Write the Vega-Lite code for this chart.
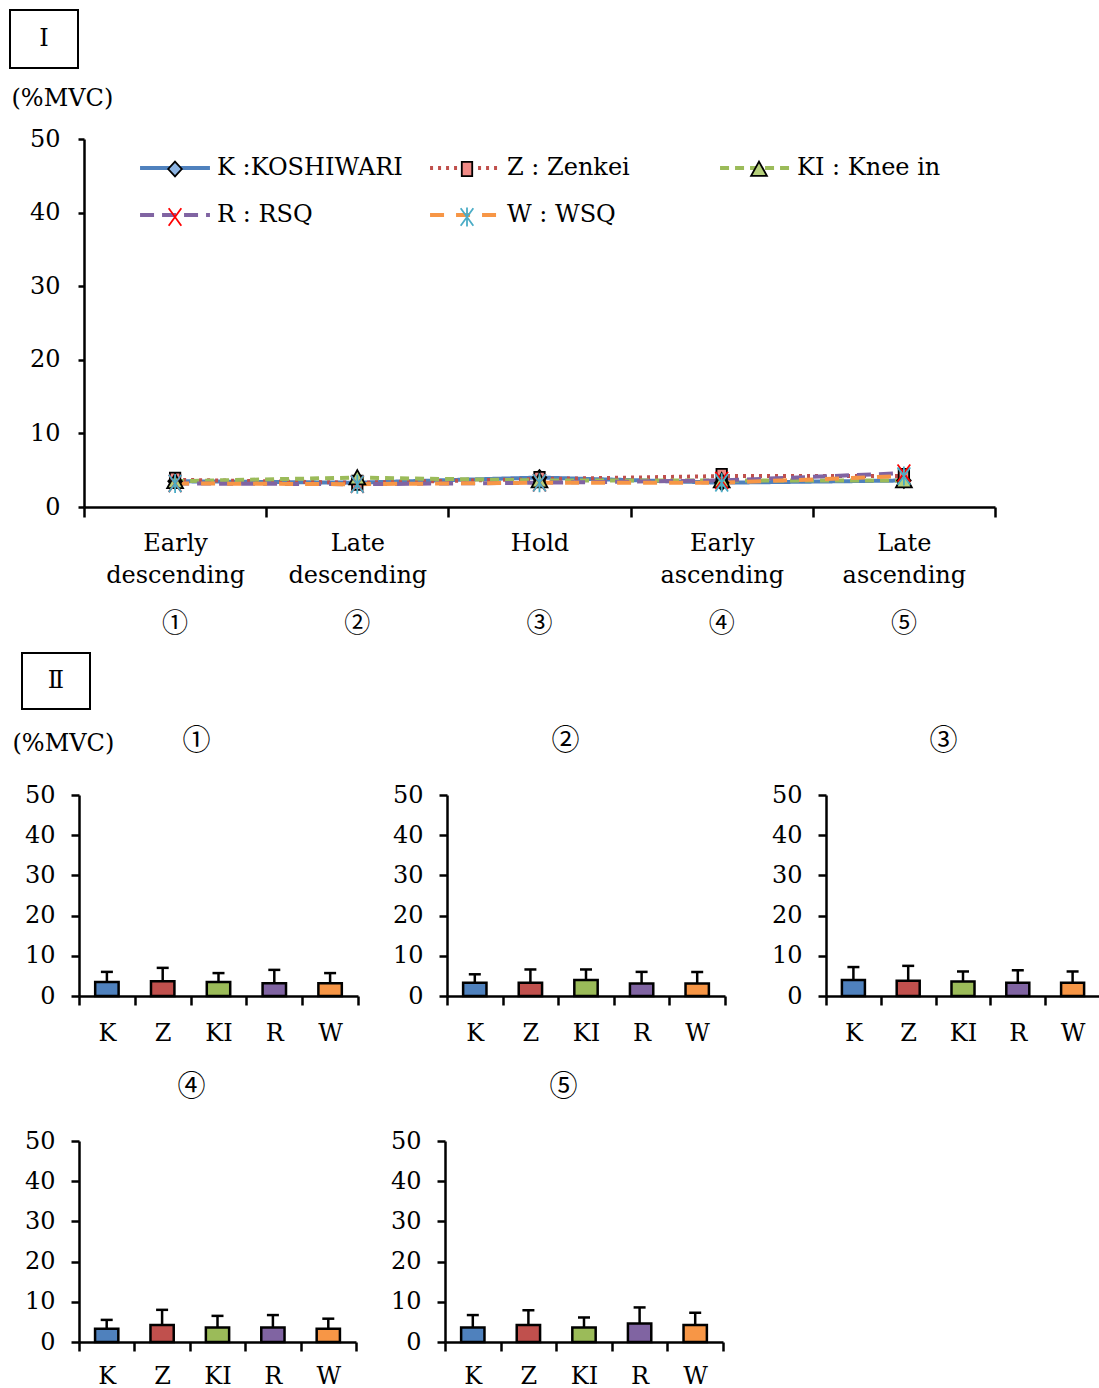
{
  "$schema": "https://vega.github.io/schema/vega-lite/v6.json",
  "padding": {"left": 9, "top": 9, "right": 0, "bottom": 0},
  "background": "white",
  "config": {
    "font": "DejaVu Serif",
    "view": {"stroke": null},
    "axis": {
      "labelFont": "DejaVu Serif", "labelFontSize": 24, "labelColor": "black",
      "domainColor": "black", "domainWidth": 2.5, "tickColor": "black", "tickWidth": 2.5,
      "grid": false, "titleFont": "DejaVu Serif", "titleFontSize": 24,
      "titleFontWeight": "normal", "titleColor": "black"
    },
    "legend": {"labelFont": "DejaVu Serif", "labelFontSize": 24, "labelColor": "black"}
  },
  "datasets": {
    "emg": [
      {"phase": "Early descending", "series": "K :KOSHIWARI", "mean": 3.5, "upper": 6.0},
      {"phase": "Early descending", "series": "Z : Zenkei", "mean": 3.7, "upper": 7.0},
      {"phase": "Early descending", "series": "KI : Knee in", "mean": 3.5, "upper": 5.7},
      {"phase": "Early descending", "series": "R : RSQ", "mean": 3.2, "upper": 6.5},
      {"phase": "Early descending", "series": "W : WSQ", "mean": 3.2, "upper": 5.7},
      {"phase": "Late descending", "series": "K :KOSHIWARI", "mean": 3.3, "upper": 5.4},
      {"phase": "Late descending", "series": "Z : Zenkei", "mean": 3.3, "upper": 6.6},
      {"phase": "Late descending", "series": "KI : Knee in", "mean": 4.0, "upper": 6.6},
      {"phase": "Late descending", "series": "R : RSQ", "mean": 3.1, "upper": 6.0},
      {"phase": "Late descending", "series": "W : WSQ", "mean": 3.1, "upper": 6.0},
      {"phase": "Hold", "series": "K :KOSHIWARI", "mean": 4.0, "upper": 7.2},
      {"phase": "Hold", "series": "Z : Zenkei", "mean": 3.8, "upper": 7.5},
      {"phase": "Hold", "series": "KI : Knee in", "mean": 3.6, "upper": 6.1},
      {"phase": "Hold", "series": "R : RSQ", "mean": 3.3, "upper": 6.4},
      {"phase": "Hold", "series": "W : WSQ", "mean": 3.3, "upper": 6.1},
      {"phase": "Early ascending", "series": "K :KOSHIWARI", "mean": 3.3, "upper": 5.5},
      {"phase": "Early ascending", "series": "Z : Zenkei", "mean": 4.2, "upper": 8.0},
      {"phase": "Early ascending", "series": "KI : Knee in", "mean": 3.6, "upper": 6.5},
      {"phase": "Early ascending", "series": "R : RSQ", "mean": 3.6, "upper": 6.7},
      {"phase": "Early ascending", "series": "W : WSQ", "mean": 3.3, "upper": 5.8},
      {"phase": "Late ascending", "series": "K :KOSHIWARI", "mean": 3.6, "upper": 6.7},
      {"phase": "Late ascending", "series": "Z : Zenkei", "mean": 4.2, "upper": 7.9},
      {"phase": "Late ascending", "series": "KI : Knee in", "mean": 3.6, "upper": 6.1},
      {"phase": "Late ascending", "series": "R : RSQ", "mean": 4.6, "upper": 8.6},
      {"phase": "Late ascending", "series": "W : WSQ", "mean": 4.2, "upper": 7.3}
    ]
  },
  "resolve": {"scale": {"fill": "independent", "color": "independent", "shape": "independent", "stroke": "independent", "strokeDash": "independent"}},
  "spacing": 11,
  "vconcat": [
    {
      "spacing": 17,
      "resolve": {"scale": {"fill": "independent", "color": "independent", "shape": "independent", "stroke": "independent", "strokeDash": "independent"}},
      "vconcat": [
        {
          "width": 68, "height": 58,
          "view": {"stroke": "black", "strokeWidth": 2},
          "data": {"values": [{"tag": "Ⅰ"}]},
          "mark": {"type": "text", "font": "DejaVu Serif", "fontSize": 24, "color": "black"},
          "encoding": {"text": {"field": "tag"}}
        },
        {
          "spacing": 0,
          "resolve": {"scale": {"fill": "independent", "color": "independent", "shape": "independent", "stroke": "independent", "strokeDash": "independent"}},
          "hconcat": [
            {
              "width": 1, "height": 1,
              "data": {"values": [{"tag": ""}]},
              "mark": {"type": "text"},
              "encoding": {"text": {"field": "tag"}}
            },
            {
              "width": 911, "height": 368,
              "data": {"name": "emg"},
              "layer": [
                {
                  "mark": {"type": "line", "strokeWidth": 4},
                  "encoding": {
                    "x": {"field": "phase", "type": "nominal",
                      "sort": ["Early descending", "Late descending", "Hold", "Early ascending", "Late ascending"],
                      "scale": {"type": "band", "paddingInner": 0, "paddingOuter": 0},
                      "axis": {"title": null, "labelAngle": 0, "labelExpr": "split(datum.label, ' ')", "labelLineHeight": 32,
                        "tickBand": "extent", "tickSize": 10, "labelPadding": 14}},
                    "y": {"field": "mean", "type": "quantitative", "scale": {"domain": [0, 50]},
                      "axis": {"values": [0, 10, 20, 30, 40, 50], "tickSize": 6, "labelPadding": 18,
                        "title": "(%MVC)", "titleAngle": 0, "titleAlign": "left", "titleBaseline": "middle",
                        "titleX": -73, "titleY": -41}},
                    "stroke": {"field": "series", "type": "nominal",
                      "scale": {"domain": ["K :KOSHIWARI", "Z : Zenkei", "KI : Knee in", "R : RSQ", "W : WSQ"],
                        "range": ["#4F81BD", "#C0504D", "#9BBB59", "#8064A2", "#F79646"]},
                      "legend": {"orient": "none", "legendX": 74, "legendY": 12, "direction": "horizontal", "columns": 3, "gridAlign": "all",
                        "columnPadding": 19, "rowPadding": 18, "symbolType": "M-2.33,0H2.33", "symbolSize": 900,
                        "symbolStrokeWidth": 4, "labelOffset": 25, "labelLimit": 400, "title": null, "padding": 0}},
                    "strokeDash": {"field": "series", "type": "nominal",
                      "scale": {"domain": ["K :KOSHIWARI", "Z : Zenkei", "KI : Knee in", "R : RSQ", "W : WSQ"],
                        "range": [[1, 0], [3, 5], [9, 6], [14, 8], [14, 12]]},
                      "legend": {"orient": "none", "legendX": 74, "legendY": 12, "direction": "horizontal", "columns": 3, "gridAlign": "all",
                        "columnPadding": 19, "rowPadding": 18, "symbolType": "M-2.33,0H2.33", "symbolSize": 900,
                        "symbolStrokeWidth": 4, "labelOffset": 25, "labelLimit": 400, "title": null, "padding": 0}}
                  }
                },
                {
                  "mark": {"type": "point", "filled": false, "size": 1000, "strokeWidth": 1.8, "opacity": 1},
                  "encoding": {
                    "x": {"field": "phase", "type": "nominal",
                      "sort": ["Early descending", "Late descending", "Hold", "Early ascending", "Late ascending"],
                      "axis": {"orient": "bottom", "title": null, "labelAngle": 0, "domain": false, "ticks": false, "tickSize": 0,
                        "labelPadding": 103, "labelFont": "Noto Sans CJK JP", "labelFontSize": 26,
                        "labelExpr": "['①','②','③','④','⑤'][indexof(['Early descending','Late descending','Hold','Early ascending','Late ascending'], datum.label)]"}},
                    "y": {"field": "mean", "type": "quantitative", "scale": {"domain": [0, 50]},
                      "axis": {"values": [0, 10, 20, 30, 40, 50], "tickSize": 6, "labelPadding": 18,
                        "title": "(%MVC)", "titleAngle": 0, "titleAlign": "left", "titleBaseline": "middle",
                        "titleX": -73, "titleY": -41}},
                    "shape": {"field": "series", "type": "nominal",
                      "scale": {"domain": ["K :KOSHIWARI", "Z : Zenkei", "KI : Knee in", "R : RSQ", "W : WSQ", "-"],
                        "range": [
                        "M0,-0.47L0.43,0L0,0.47L-0.43,0Z",
                        "M-0.33,-0.45H0.33V0.45H-0.33Z",
                        "M0,-0.47L0.5,0.43H-0.5Z",
                        "M-0.4,-0.55L0.4,0.55M0.4,-0.55L-0.4,0.55",
                        "M-0.4,-0.55L0.4,0.55M0.4,-0.55L-0.4,0.55M0,-0.6V0.6",
                        "M0,0"]},
                      "legend": {"orient": "none", "legendX": 74, "legendY": 12, "direction": "horizontal", "columns": 3, "gridAlign": "all",
                        "columnPadding": 258, "rowPadding": 18, "symbolSize": 1000, "symbolStrokeWidth": 1.8,
                        "labelOffset": 0, "labelExpr": "''", "title": null, "padding": 0}},
                    "fill": {"field": "series", "type": "nominal",
                      "scale": {"domain": ["K :KOSHIWARI", "Z : Zenkei", "KI : Knee in", "R : RSQ", "W : WSQ", "-"],
                        "range": ["#8DB4E2", "#F08A86", "#B5CF7A", "transparent", "transparent", "transparent"]},
                      "legend": {"orient": "none", "legendX": 74, "legendY": 12, "direction": "horizontal", "columns": 3, "gridAlign": "all",
                        "columnPadding": 258, "rowPadding": 18, "symbolSize": 1000, "symbolStrokeWidth": 1.8,
                        "labelOffset": 0, "labelExpr": "''", "title": null, "padding": 0}},
                    "color": {"field": "series", "type": "nominal",
                      "scale": {"domain": ["K :KOSHIWARI", "Z : Zenkei", "KI : Knee in", "R : RSQ", "W : WSQ", "-"],
                        "range": ["black", "black", "black", "#FF0000", "#4BACC6", "transparent"]},
                      "legend": {"orient": "none", "legendX": 74, "legendY": 12, "direction": "horizontal", "columns": 3, "gridAlign": "all",
                        "columnPadding": 258, "rowPadding": 18, "symbolSize": 1000, "symbolStrokeWidth": 1.8,
                        "labelOffset": 0, "labelExpr": "''", "title": null, "padding": 0}}
                  }
                }
              ],
              "resolve": {"axis": {"x": "independent"}}
            }
          ]
        }
      ]
    },
    {
      "spacing": 17,
      "vconcat": [
        {
          "spacing": 10,
          "hconcat": [
            {
              "width": 1, "height": 1,
              "data": {"values": [{"tag": ""}]},
              "mark": {"type": "text"},
              "encoding": {"text": {"field": "tag"}}
            },
            {
              "width": 68, "height": 56,
              "view": {"stroke": "black", "strokeWidth": 2},
              "data": {"values": [{"tag": "Ⅱ"}]},
              "mark": {"type": "text", "font": "DejaVu Serif", "fontSize": 24, "color": "black"},
              "encoding": {"text": {"field": "tag"}}
            }
          ]
        },
        {
          "spacing": 1,
          "hconcat": [
            {
              "width": 1, "height": 1,
              "data": {"values": [{"tag": ""}]},
              "mark": {"type": "text"},
              "encoding": {"text": {"field": "tag"}}
            },
            {
              "spacing": 28,
              "vconcat": [
                {
                  "spacing": 32,
                  "hconcat": [
                    {
                      "width": 279, "height": 201,
                      "data": {"name": "emg"},
                      "transform": [{"filter": {"field": "phase", "equal": "Early descending"}}],
                      "layer": [
                        {"mark": {"type": "bar", "width": {"band": 0.42}, "stroke": "black", "strokeWidth": 2.5},
                         "encoding": {
                           "x": {"field": "series", "type": "nominal", "sort": ["K :KOSHIWARI", "Z : Zenkei", "KI : Knee in", "R : RSQ", "W : WSQ"],
                             "scale": {"type": "band", "paddingInner": 0, "paddingOuter": 0},
                             "axis": {"title": null, "labelAngle": 0, "labelExpr": "split(datum.label, ' ')[0]", "tickBand": "extent", "tickSize": 9, "labelPadding": 16}},
                           "y": {"field": "mean", "type": "quantitative", "scale": {"domain": [0, 50]},
                             "axis": {"values": [0, 10, 20, 30, 40, 50], "tickSize": 8, "labelPadding": 16,
                               "title": "(%MVC)", "titleAngle": 0, "titleAlign": "left", "titleBaseline": "middle", "titleX": -67, "titleY": -52}},
                           "fill": {"field": "series", "type": "nominal",
                             "scale": {"domain": ["K :KOSHIWARI", "Z : Zenkei", "KI : Knee in", "R : RSQ", "W : WSQ"], "range": ["#4F81BD", "#C0504D", "#9BBB59", "#8064A2", "#F79646"]},
                             "legend": null}}},
                        {"mark": {"type": "rule", "strokeWidth": 2.5, "color": "black"},
                         "encoding": {
                           "x": {"field": "series", "type": "nominal", "sort": ["K :KOSHIWARI", "Z : Zenkei", "KI : Knee in", "R : RSQ", "W : WSQ"], "axis": null},
                           "y": {"field": "mean", "type": "quantitative",
                             "axis": {"values": [0, 10, 20, 30, 40, 50], "tickSize": 8, "labelPadding": 16,
                               "title": "(%MVC)", "titleAngle": 0, "titleAlign": "left", "titleBaseline": "middle", "titleX": -67, "titleY": -52}},
                           "y2": {"field": "upper"}}},
                        {"mark": {"type": "tick", "orient": "horizontal", "size": 12, "thickness": 2.5, "color": "black", "opacity": 1},
                         "encoding": {
                           "x": {"field": "series", "type": "nominal", "sort": ["K :KOSHIWARI", "Z : Zenkei", "KI : Knee in", "R : RSQ", "W : WSQ"],
                             "axis": {"orient": "top", "domain": false, "ticks": false, "labels": false, "title": "①",
                               "titleFont": "Noto Sans CJK JP", "titleFontSize": 28, "titleX": 117, "titleY": -54, "titleBaseline": "middle", "titleAlign": "center"}},
                           "y": {"field": "upper", "type": "quantitative",
                             "axis": {"values": [0, 10, 20, 30, 40, 50], "tickSize": 8, "labelPadding": 16,
                               "title": "(%MVC)", "titleAngle": 0, "titleAlign": "left", "titleBaseline": "middle", "titleX": -67, "titleY": -52}}}}
                      ],
                      "resolve": {"axis": {"x": "independent"}}
                    },
                    {
                      "width": 278, "height": 201,
                      "data": {"name": "emg"},
                      "transform": [{"filter": {"field": "phase", "equal": "Late descending"}}],
                      "layer": [
                        {"mark": {"type": "bar", "width": {"band": 0.42}, "stroke": "black", "strokeWidth": 2.5},
                         "encoding": {
                           "x": {"field": "series", "type": "nominal", "sort": ["K :KOSHIWARI", "Z : Zenkei", "KI : Knee in", "R : RSQ", "W : WSQ"],
                             "scale": {"type": "band", "paddingInner": 0, "paddingOuter": 0},
                             "axis": {"title": null, "labelAngle": 0, "labelExpr": "split(datum.label, ' ')[0]", "tickBand": "extent", "tickSize": 9, "labelPadding": 16}},
                           "y": {"field": "mean", "type": "quantitative", "scale": {"domain": [0, 50]},
                             "axis": {"values": [0, 10, 20, 30, 40, 50], "tickSize": 8, "labelPadding": 16, "title": null}},
                           "fill": {"field": "series", "type": "nominal",
                             "scale": {"domain": ["K :KOSHIWARI", "Z : Zenkei", "KI : Knee in", "R : RSQ", "W : WSQ"], "range": ["#4F81BD", "#C0504D", "#9BBB59", "#8064A2", "#F79646"]},
                             "legend": null}}},
                        {"mark": {"type": "rule", "strokeWidth": 2.5, "color": "black"},
                         "encoding": {
                           "x": {"field": "series", "type": "nominal", "sort": ["K :KOSHIWARI", "Z : Zenkei", "KI : Knee in", "R : RSQ", "W : WSQ"], "axis": null},
                           "y": {"field": "mean", "type": "quantitative",
                             "axis": {"values": [0, 10, 20, 30, 40, 50], "tickSize": 8, "labelPadding": 16, "title": null}},
                           "y2": {"field": "upper"}}},
                        {"mark": {"type": "tick", "orient": "horizontal", "size": 12, "thickness": 2.5, "color": "black", "opacity": 1},
                         "encoding": {
                           "x": {"field": "series", "type": "nominal", "sort": ["K :KOSHIWARI", "Z : Zenkei", "KI : Knee in", "R : RSQ", "W : WSQ"],
                             "axis": {"orient": "top", "domain": false, "ticks": false, "labels": false, "title": "②",
                               "titleFont": "Noto Sans CJK JP", "titleFontSize": 28, "titleX": 118, "titleY": -54, "titleBaseline": "middle", "titleAlign": "center"}},
                           "y": {"field": "upper", "type": "quantitative",
                             "axis": {"values": [0, 10, 20, 30, 40, 50], "tickSize": 8, "labelPadding": 16, "title": null}}}}
                      ],
                      "resolve": {"axis": {"x": "independent"}}
                    },
                    {
                      "width": 274, "height": 201,
                      "data": {"name": "emg"},
                      "transform": [{"filter": {"field": "phase", "equal": "Hold"}}],
                      "layer": [
                        {"mark": {"type": "bar", "width": {"band": 0.42}, "stroke": "black", "strokeWidth": 2.5},
                         "encoding": {
                           "x": {"field": "series", "type": "nominal", "sort": ["K :KOSHIWARI", "Z : Zenkei", "KI : Knee in", "R : RSQ", "W : WSQ"],
                             "scale": {"type": "band", "paddingInner": 0, "paddingOuter": 0},
                             "axis": {"title": null, "labelAngle": 0, "labelExpr": "split(datum.label, ' ')[0]", "tickBand": "extent", "tickSize": 9, "labelPadding": 16}},
                           "y": {"field": "mean", "type": "quantitative", "scale": {"domain": [0, 50]},
                             "axis": {"values": [0, 10, 20, 30, 40, 50], "tickSize": 8, "labelPadding": 16, "title": null, "minExtent": 67}},
                           "fill": {"field": "series", "type": "nominal",
                             "scale": {"domain": ["K :KOSHIWARI", "Z : Zenkei", "KI : Knee in", "R : RSQ", "W : WSQ"], "range": ["#4F81BD", "#C0504D", "#9BBB59", "#8064A2", "#F79646"]},
                             "legend": null}}},
                        {"mark": {"type": "rule", "strokeWidth": 2.5, "color": "black"},
                         "encoding": {
                           "x": {"field": "series", "type": "nominal", "sort": ["K :KOSHIWARI", "Z : Zenkei", "KI : Knee in", "R : RSQ", "W : WSQ"], "axis": null},
                           "y": {"field": "mean", "type": "quantitative",
                             "axis": {"values": [0, 10, 20, 30, 40, 50], "tickSize": 8, "labelPadding": 16, "title": null, "minExtent": 67}},
                           "y2": {"field": "upper"}}},
                        {"mark": {"type": "tick", "orient": "horizontal", "size": 12, "thickness": 2.5, "color": "black", "opacity": 1},
                         "encoding": {
                           "x": {"field": "series", "type": "nominal", "sort": ["K :KOSHIWARI", "Z : Zenkei", "KI : Knee in", "R : RSQ", "W : WSQ"],
                             "axis": {"orient": "top", "domain": false, "ticks": false, "labels": false, "title": "③",
                               "titleFont": "Noto Sans CJK JP", "titleFontSize": 28, "titleX": 117, "titleY": -54, "titleBaseline": "middle", "titleAlign": "center"}},
                           "y": {"field": "upper", "type": "quantitative",
                             "axis": {"values": [0, 10, 20, 30, 40, 50], "tickSize": 8, "labelPadding": 16, "title": null, "minExtent": 67}}}}
                      ],
                      "resolve": {"axis": {"x": "independent"}}
                    }
                  ]
                },
                {
                  "spacing": 32,
                  "hconcat": [
                    {
                      "width": 277, "height": 201,
                      "data": {"name": "emg"},
                      "transform": [{"filter": {"field": "phase", "equal": "Early ascending"}}],
                      "layer": [
                        {"mark": {"type": "bar", "width": {"band": 0.42}, "stroke": "black", "strokeWidth": 2.5},
                         "encoding": {
                           "x": {"field": "series", "type": "nominal", "sort": ["K :KOSHIWARI", "Z : Zenkei", "KI : Knee in", "R : RSQ", "W : WSQ"],
                             "scale": {"type": "band", "paddingInner": 0, "paddingOuter": 0},
                             "axis": {"title": null, "labelAngle": 0, "labelExpr": "split(datum.label, ' ')[0]", "tickBand": "extent", "tickSize": 9, "labelPadding": 13}},
                           "y": {"field": "mean", "type": "quantitative", "scale": {"domain": [0, 50]},
                             "axis": {"values": [0, 10, 20, 30, 40, 50], "tickSize": 8, "labelPadding": 16, "title": null}},
                           "fill": {"field": "series", "type": "nominal",
                             "scale": {"domain": ["K :KOSHIWARI", "Z : Zenkei", "KI : Knee in", "R : RSQ", "W : WSQ"], "range": ["#4F81BD", "#C0504D", "#9BBB59", "#8064A2", "#F79646"]},
                             "legend": null}}},
                        {"mark": {"type": "rule", "strokeWidth": 2.5, "color": "black"},
                         "encoding": {
                           "x": {"field": "series", "type": "nominal", "sort": ["K :KOSHIWARI", "Z : Zenkei", "KI : Knee in", "R : RSQ", "W : WSQ"], "axis": null},
                           "y": {"field": "mean", "type": "quantitative",
                             "axis": {"values": [0, 10, 20, 30, 40, 50], "tickSize": 8, "labelPadding": 16, "title": null}},
                           "y2": {"field": "upper"}}},
                        {"mark": {"type": "tick", "orient": "horizontal", "size": 12, "thickness": 2.5, "color": "black", "opacity": 1},
                         "encoding": {
                           "x": {"field": "series", "type": "nominal", "sort": ["K :KOSHIWARI", "Z : Zenkei", "KI : Knee in", "R : RSQ", "W : WSQ"],
                             "axis": {"orient": "top", "domain": false, "ticks": false, "labels": false, "title": "④",
                               "titleFont": "Noto Sans CJK JP", "titleFontSize": 28, "titleX": 112, "titleY": -54, "titleBaseline": "middle", "titleAlign": "center"}},
                           "y": {"field": "upper", "type": "quantitative",
                             "axis": {"values": [0, 10, 20, 30, 40, 50], "tickSize": 8, "labelPadding": 16, "title": null}}}}
                      ],
                      "resolve": {"axis": {"x": "independent"}}
                    },
                    {
                      "width": 278, "height": 201,
                      "data": {"name": "emg"},
                      "transform": [{"filter": {"field": "phase", "equal": "Late ascending"}}],
                      "layer": [
                        {"mark": {"type": "bar", "width": {"band": 0.42}, "stroke": "black", "strokeWidth": 2.5},
                         "encoding": {
                           "x": {"field": "series", "type": "nominal", "sort": ["K :KOSHIWARI", "Z : Zenkei", "KI : Knee in", "R : RSQ", "W : WSQ"],
                             "scale": {"type": "band", "paddingInner": 0, "paddingOuter": 0},
                             "axis": {"title": null, "labelAngle": 0, "labelExpr": "split(datum.label, ' ')[0]", "tickBand": "extent", "tickSize": 9, "labelPadding": 13}},
                           "y": {"field": "mean", "type": "quantitative", "scale": {"domain": [0, 50]},
                             "axis": {"values": [0, 10, 20, 30, 40, 50], "tickSize": 8, "labelPadding": 16, "title": null}},
                           "fill": {"field": "series", "type": "nominal",
                             "scale": {"domain": ["K :KOSHIWARI", "Z : Zenkei", "KI : Knee in", "R : RSQ", "W : WSQ"], "range": ["#4F81BD", "#C0504D", "#9BBB59", "#8064A2", "#F79646"]},
                             "legend": null}}},
                        {"mark": {"type": "rule", "strokeWidth": 2.5, "color": "black"},
                         "encoding": {
                           "x": {"field": "series", "type": "nominal", "sort": ["K :KOSHIWARI", "Z : Zenkei", "KI : Knee in", "R : RSQ", "W : WSQ"], "axis": null},
                           "y": {"field": "mean", "type": "quantitative",
                             "axis": {"values": [0, 10, 20, 30, 40, 50], "tickSize": 8, "labelPadding": 16, "title": null}},
                           "y2": {"field": "upper"}}},
                        {"mark": {"type": "tick", "orient": "horizontal", "size": 12, "thickness": 2.5, "color": "black", "opacity": 1},
                         "encoding": {
                           "x": {"field": "series", "type": "nominal", "sort": ["K :KOSHIWARI", "Z : Zenkei", "KI : Knee in", "R : RSQ", "W : WSQ"],
                             "axis": {"orient": "top", "domain": false, "ticks": false, "labels": false, "title": "⑤",
                               "titleFont": "Noto Sans CJK JP", "titleFontSize": 28, "titleX": 118, "titleY": -54, "titleBaseline": "middle", "titleAlign": "center"}},
                           "y": {"field": "upper", "type": "quantitative",
                             "axis": {"values": [0, 10, 20, 30, 40, 50], "tickSize": 8, "labelPadding": 16, "title": null}}}}
                      ],
                      "resolve": {"axis": {"x": "independent"}}
                    }
                  ]
                }
              ]
            }
          ]
        }
      ]
    }
  ]
}
